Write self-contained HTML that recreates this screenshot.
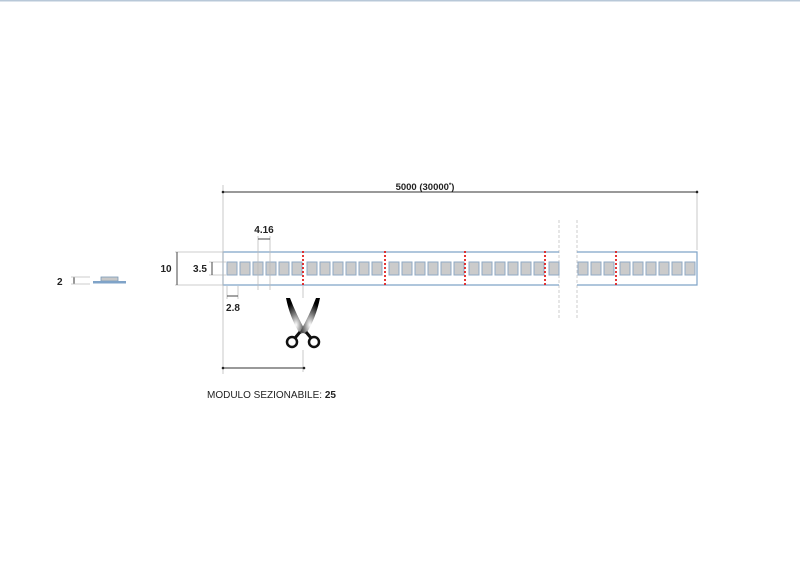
<!DOCTYPE html>
<html><head><meta charset="utf-8"><style>
html,body{margin:0;padding:0;background:#fff;}
svg{display:block;}
text{font-family:"Liberation Sans",Arial,sans-serif;font-weight:bold;fill:#222;}
</style></head><body>
<svg width="800" height="566" viewBox="0 0 800 566" xmlns="http://www.w3.org/2000/svg">
<defs>
<radialGradient id="sg" cx="0.5" cy="0.75" r="0.65">
<stop offset="0" stop-color="#fff"/><stop offset="0.5" stop-color="#777"/><stop offset="1" stop-color="#000"/>
</radialGradient>
</defs>
<rect x="0" y="0" width="800" height="1.5" fill="#b8c8d8"/>
<!-- left profile -->
<text x="57" y="285" font-size="10">2</text>
<line x1="74" y1="277" x2="74" y2="284" stroke="#333" stroke-width="1"/>
<line x1="71" y1="277" x2="90" y2="277" stroke="#bbb" stroke-width="0.8"/>
<line x1="71" y1="284" x2="90" y2="284" stroke="#bbb" stroke-width="0.8"/>
<rect x="101" y="277" width="17" height="4" fill="#c8c8c8" stroke="#7a9ab8" stroke-width="0.8"/>
<rect x="93" y="281" width="33" height="2.5" fill="#7fa3c8"/>
<!-- break lines -->
<line x1="559" y1="220" x2="559" y2="318" stroke="#ccc" stroke-dasharray="3,2"/>
<line x1="577" y1="220" x2="577" y2="318" stroke="#ccc" stroke-dasharray="3,2"/>
<!-- strip -->
<g stroke="#7fa3c8" stroke-width="1.2" fill="none">
<path d="M559,252 H223 V285 H559"/>
<path d="M577,252 H697 V285 H577"/>
</g>
<g fill="#cbcbcb" stroke="#8fa9c4" stroke-width="1">
<rect x="227" y="262" width="10" height="13"/><rect x="240" y="262" width="10" height="13"/><rect x="253" y="262" width="10" height="13"/><rect x="266" y="262" width="10" height="13"/><rect x="279" y="262" width="10" height="13"/><rect x="292" y="262" width="10" height="13"/>
<rect x="307" y="262" width="10" height="13"/><rect x="320" y="262" width="10" height="13"/><rect x="333" y="262" width="10" height="13"/><rect x="346" y="262" width="10" height="13"/><rect x="359" y="262" width="10" height="13"/><rect x="372" y="262" width="10" height="13"/>
<rect x="389" y="262" width="10" height="13"/><rect x="402" y="262" width="10" height="13"/><rect x="415" y="262" width="10" height="13"/><rect x="428" y="262" width="10" height="13"/><rect x="441" y="262" width="10" height="13"/><rect x="454" y="262" width="10" height="13"/>
<rect x="469" y="262" width="10" height="13"/><rect x="482" y="262" width="10" height="13"/><rect x="495" y="262" width="10" height="13"/><rect x="508" y="262" width="10" height="13"/><rect x="521" y="262" width="10" height="13"/><rect x="534" y="262" width="10" height="13"/>
<rect x="549" y="262" width="10" height="13"/>
<rect x="578" y="262" width="10" height="13"/><rect x="591" y="262" width="10" height="13"/><rect x="604" y="262" width="10" height="13"/>
<rect x="620" y="262" width="10" height="13"/><rect x="633" y="262" width="10" height="13"/><rect x="646" y="262" width="10" height="13"/><rect x="659" y="262" width="10" height="13"/><rect x="672" y="262" width="10" height="13"/><rect x="685" y="262" width="10" height="13"/>
</g>
<g stroke="#e02020" stroke-width="1.8" stroke-dasharray="2,2">
<line x1="303" y1="251" x2="303" y2="286"/><line x1="385" y1="251" x2="385" y2="286"/><line x1="465" y1="251" x2="465" y2="286"/><line x1="545" y1="251" x2="545" y2="286"/><line x1="616" y1="251" x2="616" y2="286"/>
</g>
<!-- dimensions -->
<g stroke="#bbb" stroke-width="0.8">
<line x1="223" y1="185" x2="223" y2="374"/>
<line x1="697" y1="190" x2="697" y2="250"/>
<line x1="303" y1="286" x2="303" y2="298"/>
<line x1="303" y1="350" x2="303" y2="372"/>
<line x1="175" y1="252" x2="223" y2="252"/>
<line x1="175" y1="285" x2="223" y2="285"/>
<line x1="209" y1="262" x2="226" y2="262"/>
<line x1="209" y1="275" x2="226" y2="275"/>
<line x1="258" y1="236" x2="258" y2="290"/>
<line x1="270" y1="236" x2="270" y2="290"/>
<line x1="227" y1="286" x2="227" y2="299"/>
<line x1="238" y1="286" x2="238" y2="299"/>
</g>
<g stroke="#333" stroke-width="0.9">
<line x1="223" y1="192" x2="697" y2="192"/>
<line x1="223" y1="368" x2="304" y2="368"/>
<line x1="177" y1="252" x2="177" y2="285"/>
<line x1="212" y1="262" x2="212" y2="275"/>
<line x1="258" y1="239" x2="270" y2="239"/>
<line x1="227" y1="296" x2="238" y2="296"/>
</g>
<g fill="#222">
<circle cx="223" cy="192" r="1.3"/><circle cx="697" cy="192" r="1.3"/>
<circle cx="223" cy="368" r="1.3"/><circle cx="304" cy="368" r="1.3"/>
</g>
<text x="425" y="190" font-size="9.5" text-anchor="middle">5000  (30000<tspan font-size="6" dy="-3">*</tspan><tspan dy="3">)</tspan></text>
<text x="166" y="272" font-size="10" text-anchor="middle">10</text>
<text x="200" y="272" font-size="10" text-anchor="middle">3.5</text>
<text x="264" y="233" font-size="10" text-anchor="middle">4.16</text>
<text x="233" y="311" font-size="10" text-anchor="middle">2.8</text>
<text x="207" y="398" font-size="10" style="font-weight:normal">MODULO SEZIONABILE: <tspan style="font-weight:bold">25</tspan></text>
<!-- scissors -->
<g>
<path d="M286,298 L290,298 Q296,314 306,332 L300,334 Q290,318 286,298 Z" fill="url(#sg)"/>
<path d="M320,298 L316,298 Q310,314 300,332 L306,334 Q316,318 320,298 Z" fill="url(#sg)"/>
<path d="M300,332 L295,338" stroke="#111" stroke-width="3"/>
<path d="M306,332 L311,338" stroke="#111" stroke-width="3"/>
<ellipse cx="292" cy="342" rx="5" ry="5" fill="none" stroke="#111" stroke-width="2.5"/>
<ellipse cx="314" cy="342" rx="5" ry="5" fill="none" stroke="#111" stroke-width="2.5"/>
</g>
</svg>
</body></html>
